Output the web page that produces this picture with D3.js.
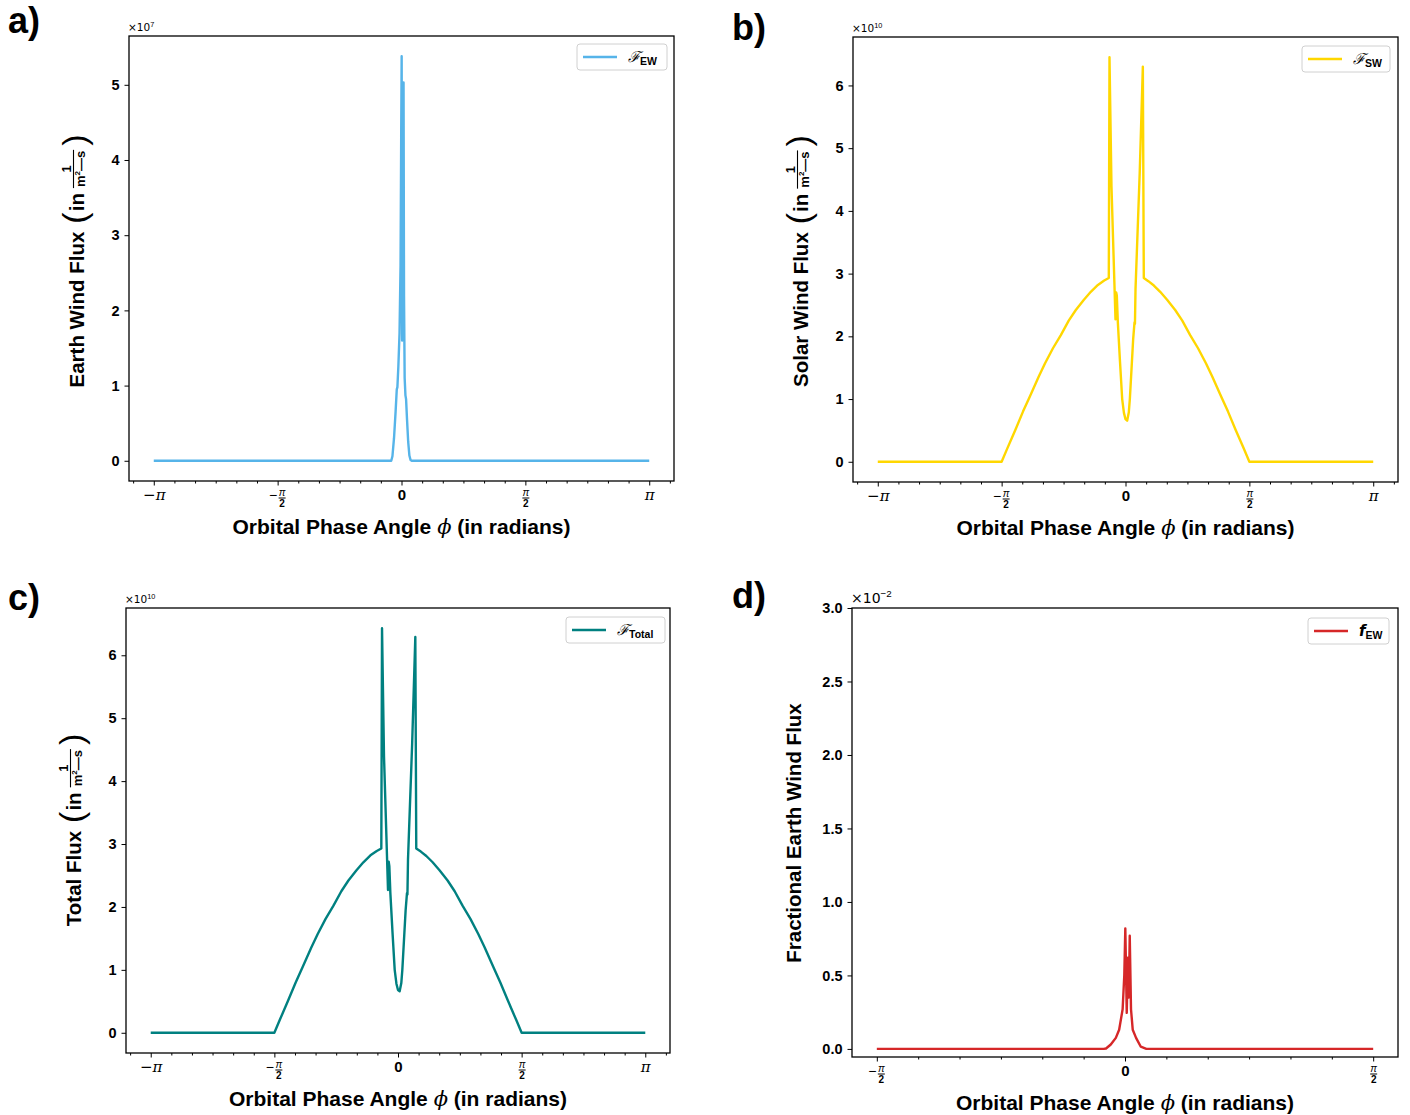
<!DOCTYPE html>
<html lang="en">
<head>
<meta charset="UTF-8">
<title>Wind flux vs orbital phase</title>
<style>
  body { margin: 0; background: #fff; }
  text { font-family: "Liberation Sans", Arial, sans-serif; }
</style>
</head>
<body>
<svg id="svg" width="1410" height="1115"></svg>
<script src="https://d3js.org/d3.v7.min.js"></script>
<script>
const PI = Math.PI

// Earth wind flux, x1e7 (1/m^2-s)
const ewPhi  = [-3.1416, -0.13, -0.115, -0.095, -0.075, -0.06, -0.052, -0.04, -0.025, -0.012, -0.004, 0.002, 0.008, 0.014, 0.020, 0.026, 0.032, 0.04, 0.05, 0.058, 0.07, 0.085, 0.1, 0.115, 0.13, 3.1416]
const ewFlux = [0, 0, 0.06, 0.3, 0.65, 0.95, 0.98, 1.25, 1.7, 2.6, 4.3, 5.38, 1.6, 3.8, 2.0, 5.03, 2.2, 1.1, 0.87, 0.82, 0.55, 0.25, 0.07, 0.01, 0, 0]

// Solar wind flux, x1e10
const swPhi  = [-3.1416, -1.5708, -1.50, -1.40, -1.30, -1.21, -1.10, -1.02, -0.92, -0.82, -0.72, -0.63, -0.53, -0.44, -0.35, -0.27, -0.212,
  -0.203, -0.178, -0.127, -0.118, -0.110, -0.097, -0.07, -0.042, -0.02, 0.0, 0.021, 0.042, 0.055, 0.075, 0.097, 0.114, 0.120, 0.127, 0.18, 0.22,
  0.232, 0.29, 0.36, 0.44, 0.53, 0.63, 0.72, 0.82, 0.92, 1.02, 1.10, 1.21, 1.30, 1.40, 1.50, 1.5708, 3.1416]
const swFlux = [0, 0, 0.21, 0.5, 0.8, 1.05, 1.36, 1.57, 1.81, 2.02, 2.25, 2.42, 2.58, 2.71, 2.82, 2.89, 2.93,
  6.45, 4.4, 2.27, 2.7, 2.65, 2.22, 1.6, 1.0, 0.78, 0.68, 0.655, 0.79, 1.0, 1.45, 1.95, 2.22, 2.2, 2.75, 4.6, 6.30,
  2.93, 2.88, 2.81, 2.71, 2.58, 2.42, 2.25, 2.02, 1.81, 1.57, 1.36, 1.05, 0.8, 0.5, 0.21, 0, 0]

// Total flux, x1e10
const totPhi  = [-3.1416, -1.5708, -1.50, -1.40, -1.30, -1.21, -1.10, -1.02, -0.92, -0.82, -0.72, -0.63, -0.53, -0.44, -0.35, -0.27, -0.212,
  -0.203, -0.178, -0.127, -0.118, -0.110, -0.097, -0.07, -0.042, -0.02, 0.0, 0.021, 0.042, 0.055, 0.075, 0.097, 0.114, 0.120, 0.127, 0.18, 0.22,
  0.232, 0.29, 0.36, 0.44, 0.53, 0.63, 0.72, 0.82, 0.92, 1.02, 1.10, 1.21, 1.30, 1.40, 1.50, 1.5708, 3.1416]
const totFlux = [0, 0, 0.21, 0.5, 0.8, 1.05, 1.36, 1.57, 1.81, 2.02, 2.25, 2.42, 2.58, 2.71, 2.82, 2.89, 2.93,
  6.43, 4.4, 2.27, 2.72, 2.65, 2.22, 1.6, 1.0, 0.78, 0.68, 0.66, 0.79, 1.0, 1.45, 1.95, 2.22, 2.2, 2.75, 4.6, 6.29,
  2.93, 2.88, 2.81, 2.71, 2.58, 2.42, 2.25, 2.02, 1.81, 1.57, 1.36, 1.05, 0.8, 0.5, 0.21, 0, 0]

// Fractional Earth wind flux, x1e-2
const fPhi  = [-1.5708, -0.135, -0.12, -0.09, -0.058, -0.037, -0.015, -0.0045, 0.002, 0.011, 0.018, 0.024, 0.030, 0.038, 0.049, 0.07, 0.1, 0.135, 1.5708]
const fFrac = [0, 0, 0.003, 0.03, 0.075, 0.13, 0.27, 0.5, 0.82, 0.245, 0.62, 0.35, 0.77, 0.27, 0.13, 0.075, 0.015, 0, 0]

const fullTicks = [-PI, -PI / 2, 0, PI / 2, PI]
const fullLabels = ['-pi', '-pi/2', '0', 'pi/2', 'pi']
const halfTicks = [-PI / 2, 0, PI / 2]
const halfLabels = ['-pi/2', '0', 'pi/2']
const intTicks5 = [0, 1, 2, 3, 4, 5]
const intTicks6 = [0, 1, 2, 3, 4, 5, 6]
const fracTicks = [0, 0.5, 1.0, 1.5, 2.0, 2.5, 3.0]

const svg = d3.select('#svg')

function piLabel(g, lab) {
  // tick label for multiples of pi, drawn inside the tick group
  const neg = lab[0] === '-'
  const core = neg ? lab.slice(1) : lab
  if (core === '0') {
    g.append('text').attr('y', 19).attr('text-anchor', 'middle')
      .attr('font-size', 15).attr('font-weight', 'bold').text('0')
    return
  }
  const frac = core.indexOf('/2') >= 0
  if (!frac) {
    const t = g.append('text').attr('y', 19).attr('text-anchor', 'middle').attr('font-size', 15)
    if (neg) t.append('tspan').attr('font-family', 'DejaVu Sans').text('\u2212')
    t.append('tspan').attr('font-family', 'DejaVu Serif').attr('font-style', 'italic').text('\u03c0')
    return
  }
  const dx = neg ? 4 : 0
  if (neg) g.append('text').attr('x', -5).attr('y', 19).attr('text-anchor', 'middle')
    .attr('font-family', 'DejaVu Sans').attr('font-size', 14).text('\u2212')
  g.append('text').attr('x', dx).attr('y', 15).attr('text-anchor', 'middle')
    .attr('font-family', 'DejaVu Serif').attr('font-style', 'italic').attr('font-size', 10).text('\u03c0')
  g.append('line').attr('x1', dx - 3.5).attr('x2', dx + 3.5).attr('y1', 17).attr('y2', 17)
    .attr('stroke', '#000').attr('stroke-width', 0.8)
  g.append('text').attr('x', dx).attr('y', 26).attr('text-anchor', 'middle')
    .attr('font-size', 10).attr('font-weight', 'bold').text('2')
}

function yLabel(px, cy, title, units) {
  const g = svg.append('g').attr('transform', `translate(${px},${cy}) rotate(-90)`)
  const inner = g.append('g')
  const t = inner.append('text').attr('font-size', 20.5).attr('font-weight', 'bold').text(title)
  let pos = t.node().getComputedTextLength()
  if (units) {
    pos += 8
    const lp = inner.append('text').attr('x', pos).attr('y', 2).attr('font-family', 'DejaVu Sans')
      .attr('font-size', 34).text('(')
    pos += lp.node().getComputedTextLength() + 1
    const tin = inner.append('text').attr('x', pos).attr('font-size', 20.5).attr('font-weight', 'bold').text('in')
    pos += tin.node().getComputedTextLength() + 6
    const den = inner.append('text').attr('x', pos).attr('y', 1).attr('font-size', 13).attr('font-weight', 'bold')
    den.append('tspan').text('m')
    den.append('tspan').attr('font-size', 8).attr('dy', -5).text('2')
    den.append('tspan').attr('dy', 5).text('\u2014s')
    const w = den.node().getComputedTextLength()
    inner.append('line').attr('x1', pos - 1).attr('x2', pos + w + 1).attr('y1', -10.5).attr('y2', -10.5)
      .attr('stroke', '#000').attr('stroke-width', 1.1)
    inner.append('text').attr('x', pos + w / 2).attr('y', -13.5).attr('text-anchor', 'middle')
      .attr('font-size', 13).attr('font-weight', 'bold').text('1')
    pos += w + 5
    const rp = inner.append('text').attr('x', pos).attr('y', 2).attr('font-family', 'DejaVu Sans')
      .attr('font-size', 34).text(')')
    pos += rp.node().getComputedTextLength()
  }
  inner.attr('transform', `translate(${-pos / 2},0)`)
}

function legend(x, y, w, color, sym, sub) {
  const g = svg.append('g').attr('transform', `translate(${x},${y})`)
  g.append('rect').attr('width', w).attr('height', 26).attr('rx', 3)
    .attr('fill', '#fff').attr('stroke', '#d0d0d0').attr('stroke-width', 1)
  g.append('line').attr('x1', 6).attr('x2', 40).attr('y1', 13).attr('y2', 13)
    .attr('stroke', color).attr('stroke-width', 2.4)
  const t = g.append('text').attr('x', 51).attr('y', 18)
  if (sym === 'F') {
    t.append('tspan').attr('font-family', 'DejaVu Serif').attr('font-style', 'italic')
      .attr('font-size', 15).text('\u2131')
  } else {
    t.append('tspan').attr('font-family', 'DejaVu Sans').attr('font-weight', 'bold')
      .attr('font-style', 'italic').attr('font-size', 15).text('f')
  }
  t.append('tspan').attr('font-size', 10.5).attr('font-weight', 'bold').attr('dy', 3).text(sub)
}

function panel(o) {
  const x = d3.scaleLinear().domain(o.xDomain).range([o.x0, o.x1])
  const y = d3.scaleLinear().domain(o.yDomain).range([o.y1, o.y0])
  const g = svg.append('g')

  const line = d3.line().x((d, i) => x(o.phi[i])).y(d => y(d))
  g.append('path').datum(o.vals).attr('d', line)
    .attr('fill', 'none').attr('stroke', o.color).attr('stroke-width', 2.4)
    .attr('stroke-linejoin', 'round')

  // minor x ticks every pi/12
  const lo = Math.ceil(o.xDomain[0] / (PI / 12)), hi = Math.floor(o.xDomain[1] / (PI / 12))
  const minor = d3.range(lo, hi + 1).filter(k => k % 6 !== 0).map(k => k * PI / 12)
  g.append('g').attr('transform', `translate(0,${o.y1})`)
    .call(d3.axisBottom(x).tickValues(minor).tickSize(2.5).tickFormat(''))
    .call(a => a.select('.domain').remove())

  const xa = g.append('g').attr('transform', `translate(0,${o.y1})`)
    .call(d3.axisBottom(x).tickValues(o.xTicks).tickSize(4.5).tickFormat(''))
    .call(a => a.select('.domain').remove())
    .attr('fill', '#000')
  xa.selectAll('.tick').each(function (d, i) { piLabel(d3.select(this), o.xLabels[i]) })

  const ya = g.append('g').attr('transform', `translate(${o.x0},0)`)
    .call(d3.axisLeft(y).tickValues(o.yTicks).tickSize(4.5).tickPadding(5).tickFormat(o.yFmt))
    .call(a => a.select('.domain').remove())
  ya.selectAll('text').attr('font-size', 14.5).attr('font-weight', 'bold').attr('fill', '#000')
  g.selectAll('.tick line').attr('stroke', '#000').attr('stroke-width', 1)

  g.append('rect').attr('x', o.x0).attr('y', o.y0).attr('width', o.x1 - o.x0).attr('height', o.y1 - o.y0)
    .attr('fill', 'none').attr('stroke', '#000').attr('stroke-width', 1.3)

  // offset text
  const m = g.append('text').attr('x', o.x0 - 1).attr('y', o.y0 - 5).attr('font-size', o.expSize)
  m.append('tspan').attr('font-family', 'DejaVu Sans').text('\u00d710')
  m.append('tspan').attr('font-size', o.expSize * 0.7).attr('dy', -o.expSize * 0.4).text(o.exp)

  // x label
  const xl = g.append('text').attr('x', (o.x0 + o.x1) / 2).attr('y', o.y1 + 53)
    .attr('text-anchor', 'middle').attr('font-size', 21).attr('font-weight', 'bold')
  xl.append('tspan').text('Orbital Phase Angle ')
  xl.append('tspan').attr('font-family', 'DejaVu Serif').attr('font-style', 'italic')
    .attr('font-weight', 'normal').text('\u03d5')
  xl.append('tspan').text(' (in radians)')

  svg.append('text').attr('x', o.tagX).attr('y', o.tagY).attr('font-size', 36)
    .attr('font-weight', 'bold').text(o.tag)
}

const fmtInt = d3.format('d')
const fmt1 = d3.format('.1f')

panel({ x0: 129, x1: 674, y0: 36, y1: 481, xDomain: [-1.1 * PI, 1.1 * PI],
  yDomain: [-0.05 * d3.max(ewFlux), 1.05 * d3.max(ewFlux)], phi: ewPhi, vals: ewFlux, color: '#56B4E9',
  xTicks: fullTicks, xLabels: fullLabels, yTicks: intTicks5, yFmt: fmtInt, exp: '7', expSize: 10.5,
  tag: 'a)', tagX: 8, tagY: 33 })
panel({ x0: 853, x1: 1398, y0: 37, y1: 482, xDomain: [-1.1 * PI, 1.1 * PI],
  yDomain: [-0.05 * d3.max(swFlux), 1.05 * d3.max(swFlux)], phi: swPhi, vals: swFlux, color: '#FFD700',
  xTicks: fullTicks, xLabels: fullLabels, yTicks: intTicks6, yFmt: fmtInt, exp: '10', expSize: 10.5,
  tag: 'b)', tagX: 732, tagY: 40 })
panel({ x0: 126, x1: 670, y0: 608, y1: 1053, xDomain: [-1.1 * PI, 1.1 * PI],
  yDomain: [-0.05 * d3.max(totFlux), 1.05 * d3.max(totFlux)], phi: totPhi, vals: totFlux, color: '#008080',
  xTicks: fullTicks, xLabels: fullLabels, yTicks: intTicks6, yFmt: fmtInt, exp: '10', expSize: 10.5,
  tag: 'c)', tagX: 8, tagY: 610 })
panel({ x0: 852, x1: 1398, y0: 608, y1: 1057, xDomain: [-0.55 * PI, 0.55 * PI],
  yDomain: [-0.055, 3.0], phi: fPhi, vals: fFrac, color: '#D62728',
  xTicks: halfTicks, xLabels: halfLabels, yTicks: fracTicks, yFmt: fmt1, exp: '\u22122', expSize: 14,
  tag: 'd)', tagX: 732, tagY: 608 })

yLabel(84, 261, 'Earth Wind Flux', true)
yLabel(808, 261, 'Solar Wind Flux', true)
yLabel(81, 830, 'Total Flux', true)
yLabel(801, 833, 'Fractional Earth Wind Flux', false)

legend(577, 44, 90, '#56B4E9', 'F', 'EW')
legend(1302, 46, 88, '#FFD700', 'F', 'SW')
legend(566, 617, 99, '#008080', 'F', 'Total')
legend(1308, 618, 81, '#D62728', 'f', 'EW')
</script>
</body>
</html>
